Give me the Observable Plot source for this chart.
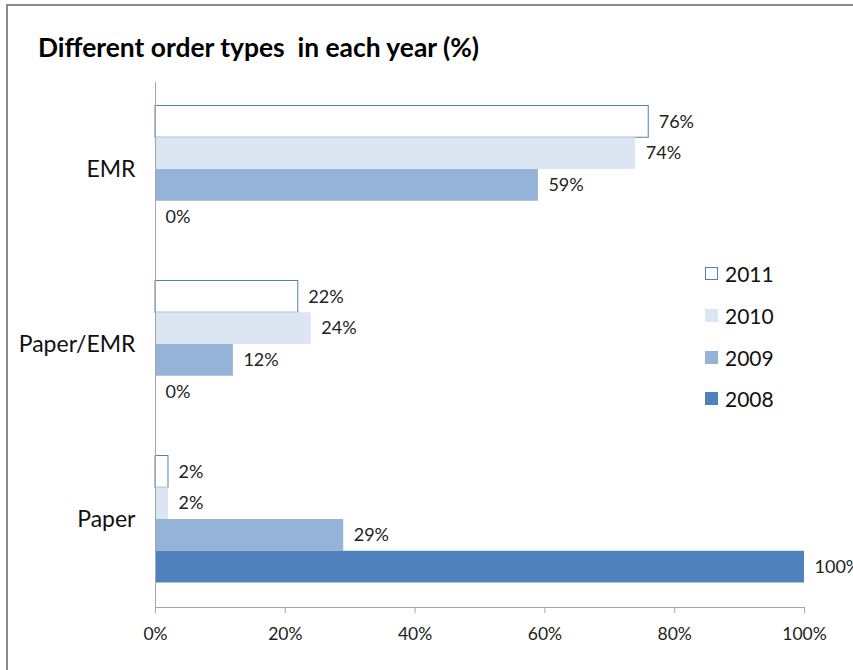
<!DOCTYPE html>
<html><head><meta charset="utf-8">
<script src="https://cdn.jsdelivr.net/npm/d3@7"></script>
<script src="https://cdn.jsdelivr.net/npm/@observablehq/plot@0.6"></script>
<style>
body{margin:0;background:#fff;font-family:Lato,sans-serif}
#wrap{position:relative;width:853px;height:670px;overflow:hidden;background:#fff}
#border{position:absolute;left:6px;top:4px;width:900px;height:700px;border-left:2px solid #8a8a8a;border-top:2px solid #8a8a8a}
#title{position:absolute;left:38px;top:32px;font-weight:bold;font-size:26.4px;white-space:pre;color:#000;line-height:30px}
#chart{position:absolute;left:0;top:78px}
#legend{position:absolute;left:705px;top:253px;font-size:21px;color:#111}
.item{height:41.7px;display:flex;align-items:center;position:relative}
.sw{width:13px;height:13px;box-sizing:border-box;margin-right:7px}
</style></head>
<body>
<div id="wrap">
  <div id="border"></div>
  <div id="title">Different order types  in each year (%)</div>
  <div id="chart"></div>
  <div id="legend"></div>
</div>
<script>
const categories = ["EMR", "Paper/EMR", "Paper"];
const years = ["2011", "2010", "2009", "2008"];
const v2011 = [76, 22, 2];
const v2010 = [74, 24, 2];
const v2009 = [59, 12, 29];
const v2008 = [0, 0, 100];
const xTicks = [0, 20, 40, 60, 80, 100];

const series = [v2011, v2010, v2009, v2008];
const fills = ["#ffffff", "#dce6f2", "#95b3d7", "#4f81bd"];
const strokes = ["#4f81bd", "none", "none", "none"];

const band = 175, off = 23.5, bh = 31.75;
const marks = [];
series.forEach((vals, i) => {
  const rows = categories.map((c, j) => ({category: c, year: years[i], value: vals[j]}));
  const top = off + i * bh;
  marks.push(Plot.barX(rows, {
    x: "value", y: "category", fill: fills[i], stroke: strokes[i], strokeWidth: 1,
    insetTop: top, insetBottom: band - top - bh
  }));
  marks.push(Plot.text(rows, {
    x: "value", y: "category", text: d => d.value + "%", textAnchor: "start",
    dx: 10, dy: top + bh / 2 - band / 2, fontSize: 18, fill: "#222"
  }));
});

const chart = Plot.plot({
  width: 853, height: 592,
  marginLeft: 155, marginRight: 49, marginTop: 4, marginBottom: 63,
  style: {fontFamily: "Lato, sans-serif", background: "transparent", overflow: "visible"},
  x: {domain: [0, 100]},
  y: {domain: categories, range: [4, 529], padding: 0},
  marks: [
    ...marks,
    Plot.frame({anchor: "left", stroke: "#a6a6a6"}),
    Plot.frame({anchor: "bottom", stroke: "#a6a6a6"}),
    Plot.axisX({ticks: xTicks, tickFormat: d => d + "%", tickSize: 6, tickPadding: 14, fontSize: 17.5, stroke: "#a6a6a6", fill: "#222", label: null}),
    Plot.axisY({tickSize: 0, tickPadding: 20, fontSize: 23, fill: "#111", label: null})
  ]
});
document.getElementById("chart").appendChild(chart);

const legend = document.getElementById("legend");
years.forEach((y, i) => {
  const it = document.createElement("div");
  it.className = "item";
  const sw = document.createElement("div");
  sw.className = "sw";
  sw.style.background = fills[i];
  if (strokes[i] !== "none") sw.style.border = "1px solid " + strokes[i];
  const t = document.createElement("span");
  t.textContent = y;
  it.appendChild(sw); it.appendChild(t);
  legend.appendChild(it);
});
</script>
</body></html>
